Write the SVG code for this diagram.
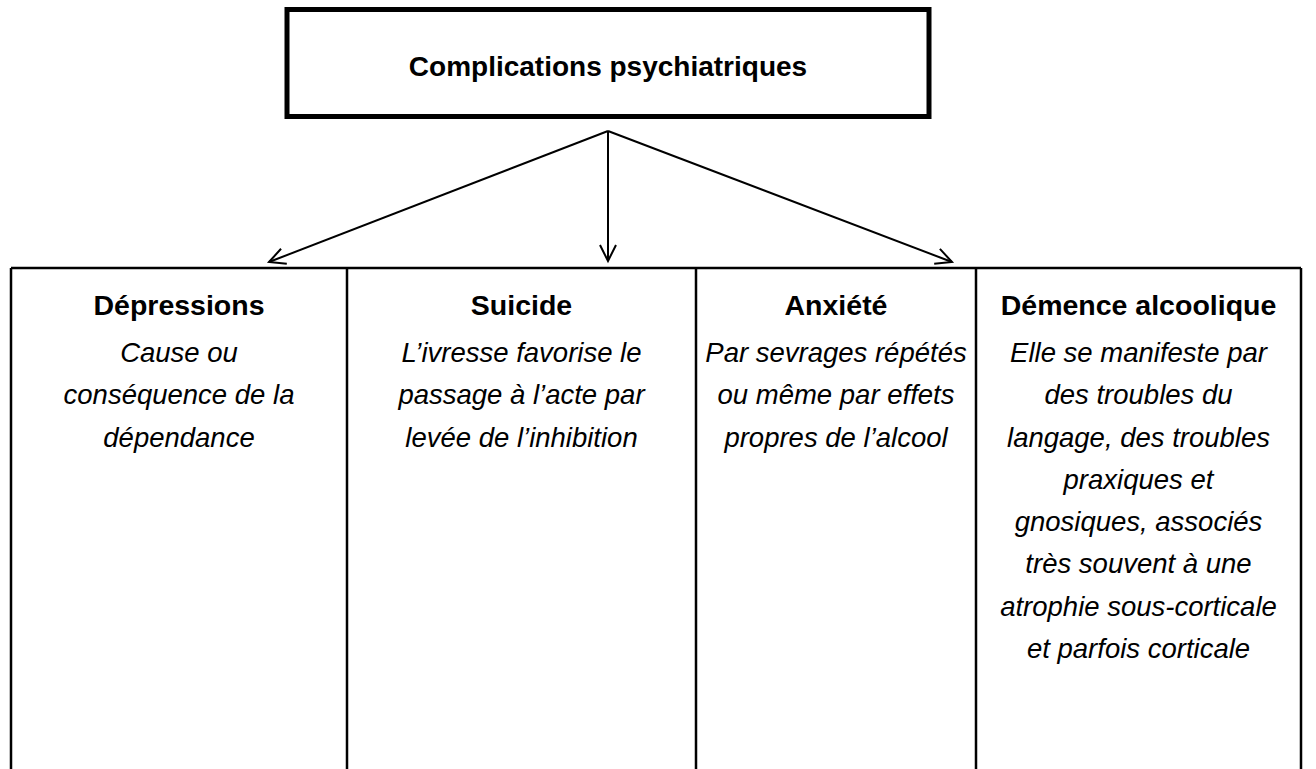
<svg xmlns="http://www.w3.org/2000/svg" width="1316" height="769" viewBox="0 0 1316 769">
<style>
.title{font-family:"Liberation Sans",Arial,sans-serif;font-weight:bold;font-size:28px;fill:#000;text-anchor:middle}
.hd{font-family:"Liberation Sans",Arial,sans-serif;font-weight:bold;font-size:28.5px;fill:#000;text-anchor:middle}
.bd{font-family:"Liberation Sans",Arial,sans-serif;font-style:italic;font-size:27.5px;fill:#000;text-anchor:middle}
.ln{stroke:#000;stroke-width:2.5;fill:none}
.cn{stroke:#000;stroke-width:2;fill:none}
</style>
<defs>
<marker id="arr" markerWidth="24" markerHeight="24" refX="20" refY="12" orient="auto" markerUnits="userSpaceOnUse">
<path d="M4,4 L20,12 L4,20" fill="none" stroke="#000" stroke-width="2"/>
</marker>
</defs>
<rect width="1316" height="769" fill="#fff"/>
<g id="title">
<rect x="287" y="9.5" width="642" height="107" fill="#fff" stroke="#000" stroke-width="5"/>
<text class="title" x="608" y="76">Complications psychiatriques</text>
</g>
<g id="connectors">
<line class="cn" x1="608" y1="131" x2="269" y2="262" marker-end="url(#arr)"/>
<line class="cn" x1="608" y1="131" x2="608" y2="261" marker-end="url(#arr)"/>
<line class="cn" x1="608" y1="131" x2="952" y2="262" marker-end="url(#arr)"/>
</g>
<g id="table">
<path class="ln" d="M11,268 H1301 M11,268 V769 M347,268 V769 M696,268 V769 M976,268 V769 M1301,268 V769"/>
</g>
<g id="depressions">
<text class="hd" x="179" y="315">Dépressions</text>
<text class="bd" x="179" y="362">Cause ou</text>
<text class="bd" x="179" y="404">conséquence de la</text>
<text class="bd" x="179" y="447">dépendance</text>
</g>
<g id="suicide">
<text class="hd" x="521.5" y="315">Suicide</text>
<text class="bd" x="521.5" y="362">L’ivresse favorise le</text>
<text class="bd" x="521.5" y="404">passage à l’acte par</text>
<text class="bd" x="521.5" y="447">levée de l’inhibition</text>
</g>
<g id="anxiete">
<text class="hd" x="836" y="315">Anxiété</text>
<text class="bd" x="836" y="362">Par sevrages répétés</text>
<text class="bd" x="836" y="404">ou même par effets</text>
<text class="bd" x="836" y="447">propres de l’alcool</text>
</g>
<g id="demence">
<text class="hd" x="1138.5" y="315">Démence alcoolique</text>
<text class="bd" x="1138.5" y="362">Elle se manifeste par</text>
<text class="bd" x="1138.5" y="404">des troubles du</text>
<text class="bd" x="1138.5" y="447">langage, des troubles</text>
<text class="bd" x="1138.5" y="489">praxiques et</text>
<text class="bd" x="1138.5" y="531">gnosiques, associés</text>
<text class="bd" x="1138.5" y="573">très souvent à une</text>
<text class="bd" x="1138.5" y="616">atrophie sous-corticale</text>
<text class="bd" x="1138.5" y="658">et parfois corticale</text>
</g>
</svg>
